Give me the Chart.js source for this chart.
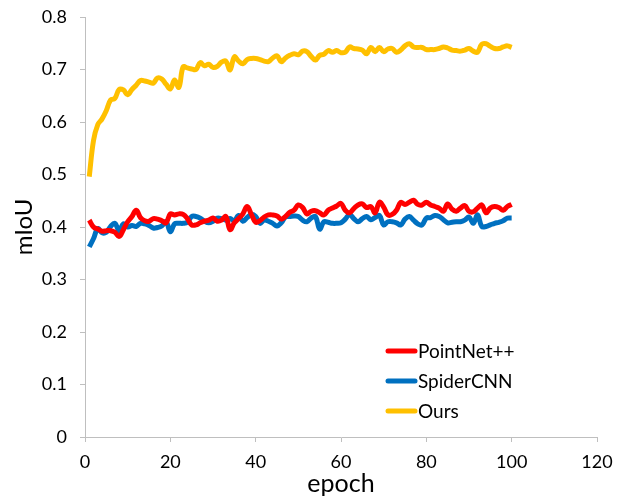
<!DOCTYPE html>
<html>
<head>
<meta charset="utf-8">
<script src="https://cdn.jsdelivr.net/npm/chart.js@4/dist/chart.umd.min.js"></script>
<style>
  body { margin: 0; background: #fff; }
  #wrap { width: 622px; height: 499px; }
</style>
</head>
<body>
<div id="wrap"><canvas id="myChart" width="622" height="499"></canvas></div>
<script>
const epochs = [];
for (let i = 1; i <= 100; i++) epochs.push(i);

const seriesNames = ["PointNet++", "SpiderCNN", "Ours"];
const lineColors = ["#FF0000", "#0070C0", "#FFC000"];

const pointnetValues = [
  0.413, 0.400, 0.396, 0.392, 0.393, 0.393, 0.390, 0.382, 0.395, 0.410,
  0.420, 0.432, 0.418, 0.412, 0.411, 0.416, 0.415, 0.412, 0.408, 0.425,
  0.423, 0.425, 0.424, 0.416, 0.404, 0.404, 0.408, 0.411, 0.413, 0.417,
  0.411, 0.413, 0.420, 0.395, 0.408, 0.416, 0.425, 0.439, 0.424, 0.409,
  0.412, 0.419, 0.423, 0.423, 0.421, 0.415, 0.420, 0.428, 0.432, 0.442,
  0.437, 0.425, 0.430, 0.431, 0.427, 0.423, 0.432, 0.436, 0.440, 0.445,
  0.432, 0.427, 0.435, 0.442, 0.444, 0.437, 0.439, 0.427, 0.447, 0.438,
  0.423, 0.424, 0.432, 0.447, 0.443, 0.447, 0.451, 0.443, 0.442, 0.447,
  0.442, 0.439, 0.436, 0.430, 0.444, 0.434, 0.430, 0.436, 0.441, 0.430,
  0.429, 0.436, 0.442, 0.427, 0.436, 0.439, 0.437, 0.432, 0.439, 0.443
];

const spiderValues = [
  0.362, 0.378, 0.397, 0.389, 0.390, 0.401, 0.407, 0.393, 0.406, 0.400,
  0.403, 0.401, 0.407, 0.406, 0.403, 0.398, 0.399, 0.402, 0.410, 0.391,
  0.406, 0.407, 0.407, 0.409, 0.420, 0.420, 0.417, 0.411, 0.408, 0.411,
  0.417, 0.416, 0.413, 0.416, 0.412, 0.422, 0.411, 0.418, 0.424, 0.420,
  0.407, 0.413, 0.411, 0.407, 0.402, 0.408, 0.419, 0.420, 0.421, 0.420,
  0.413, 0.410, 0.417, 0.420, 0.396, 0.410, 0.409, 0.407, 0.407, 0.408,
  0.415, 0.424, 0.416, 0.410, 0.416, 0.420, 0.414, 0.418, 0.422, 0.404,
  0.410, 0.410, 0.408, 0.404, 0.415, 0.420, 0.413, 0.406, 0.404, 0.417,
  0.418, 0.422, 0.420, 0.414, 0.408, 0.409, 0.410, 0.410, 0.413, 0.419,
  0.407, 0.423, 0.401, 0.401, 0.404, 0.407, 0.409, 0.412, 0.417, 0.417
];

const oursValues = [
  0.496, 0.565, 0.595, 0.606, 0.622, 0.642, 0.645, 0.662, 0.661, 0.652,
  0.662, 0.670, 0.679, 0.678, 0.676, 0.674, 0.684, 0.682, 0.672, 0.663,
  0.680, 0.666, 0.705, 0.703, 0.701, 0.700, 0.713, 0.707, 0.710, 0.704,
  0.706, 0.714, 0.716, 0.699, 0.724, 0.716, 0.711, 0.719, 0.721, 0.721,
  0.719, 0.716, 0.715, 0.722, 0.726, 0.715, 0.722, 0.727, 0.730, 0.728,
  0.735, 0.734, 0.725, 0.718, 0.727, 0.729, 0.736, 0.733, 0.736, 0.732,
  0.733, 0.743, 0.740, 0.739, 0.737, 0.730, 0.742, 0.734, 0.742, 0.734,
  0.739, 0.740, 0.733, 0.737, 0.745, 0.749, 0.743, 0.742, 0.742, 0.738,
  0.738, 0.738, 0.740, 0.743, 0.741, 0.737, 0.736, 0.735, 0.737, 0.740,
  0.735, 0.733, 0.748, 0.749, 0.744, 0.740, 0.740, 0.743, 0.745, 0.742
];

const allValues = [pointnetValues, spiderValues, oursValues];

const fontFamily = "Lato, 'Open Sans', sans-serif";

// legend drawn inside the plot, lower right
const insideLegend = {
  id: 'insideLegend',
  afterDraw(chart) {
    const ctx = chart.ctx;
    const x0 = 388, y0 = 351, rowGap = 30;
    ctx.save();
    ctx.font = "19px " + fontFamily;
    ctx.textBaseline = 'middle';
    chart.data.datasets.forEach(function(ds, i) {
      const y = y0 + i * rowGap;
      ctx.strokeStyle = ds.borderColor;
      ctx.lineWidth = 5;
      ctx.lineCap = 'round';
      ctx.beginPath();
      ctx.moveTo(x0, y);
      ctx.lineTo(x0 + 27, y);
      ctx.stroke();
      ctx.fillStyle = '#000';
      ctx.fillText(ds.label, x0 + 30, y + 1);
    });
    ctx.restore();
  }
};

new Chart("myChart", {
  type: "line",
  data: {
    labels: epochs,
    datasets: seriesNames.map(function(name, i) {
      return {
        label: name,
        data: epochs.map(function(e, j) { return { x: e, y: allValues[i][j] }; }),
        borderColor: lineColors[i],
        backgroundColor: lineColors[i],
        borderWidth: 5,
        pointRadius: 0,
        tension: 0.4,
        fill: false
      };
    })
  },
  options: {
    responsive: false,
    animation: false,
    layout: { padding: { top: 17, right: 25, left: 0, bottom: 0 } },
    plugins: {
      legend: { display: false },
      tooltip: { enabled: false }
    },
    scales: {
      x: {
        type: 'linear',
        min: 0,
        max: 120,
        ticks: { stepSize: 20, color: '#000', font: { family: fontFamily, size: 18 }, padding: 9 },
        grid: { display: true, drawOnChartArea: false, drawTicks: true, tickLength: 5, color: '#bfbfbf' },
        border: { display: true, color: '#bfbfbf' },
        title: { display: true, text: 'epoch', color: '#000', font: { family: fontFamily, size: 25 }, padding: { top: 0, bottom: 0 } },
        afterFit: function(scale) { scale.height = 62; }
      },
      y: {
        min: 0,
        max: 0.8,
        ticks: { stepSize: 0.1, color: '#000', font: { family: fontFamily, size: 18 }, padding: 13 },
        grid: { display: true, drawOnChartArea: false, drawTicks: true, tickLength: 5, color: '#bfbfbf' },
        border: { display: true, color: '#bfbfbf' },
        title: { display: true, text: 'mIoU', color: '#000', font: { family: fontFamily, size: 24 }, padding: { top: 10, bottom: 0 } },
        afterFit: function(scale) {
          scale.width = 85;
          scale.paddingTop = 0;
          scale.paddingBottom = 0;
        }
      }
    }
  },
  plugins: [insideLegend]
});
</script>
</body>
</html>
